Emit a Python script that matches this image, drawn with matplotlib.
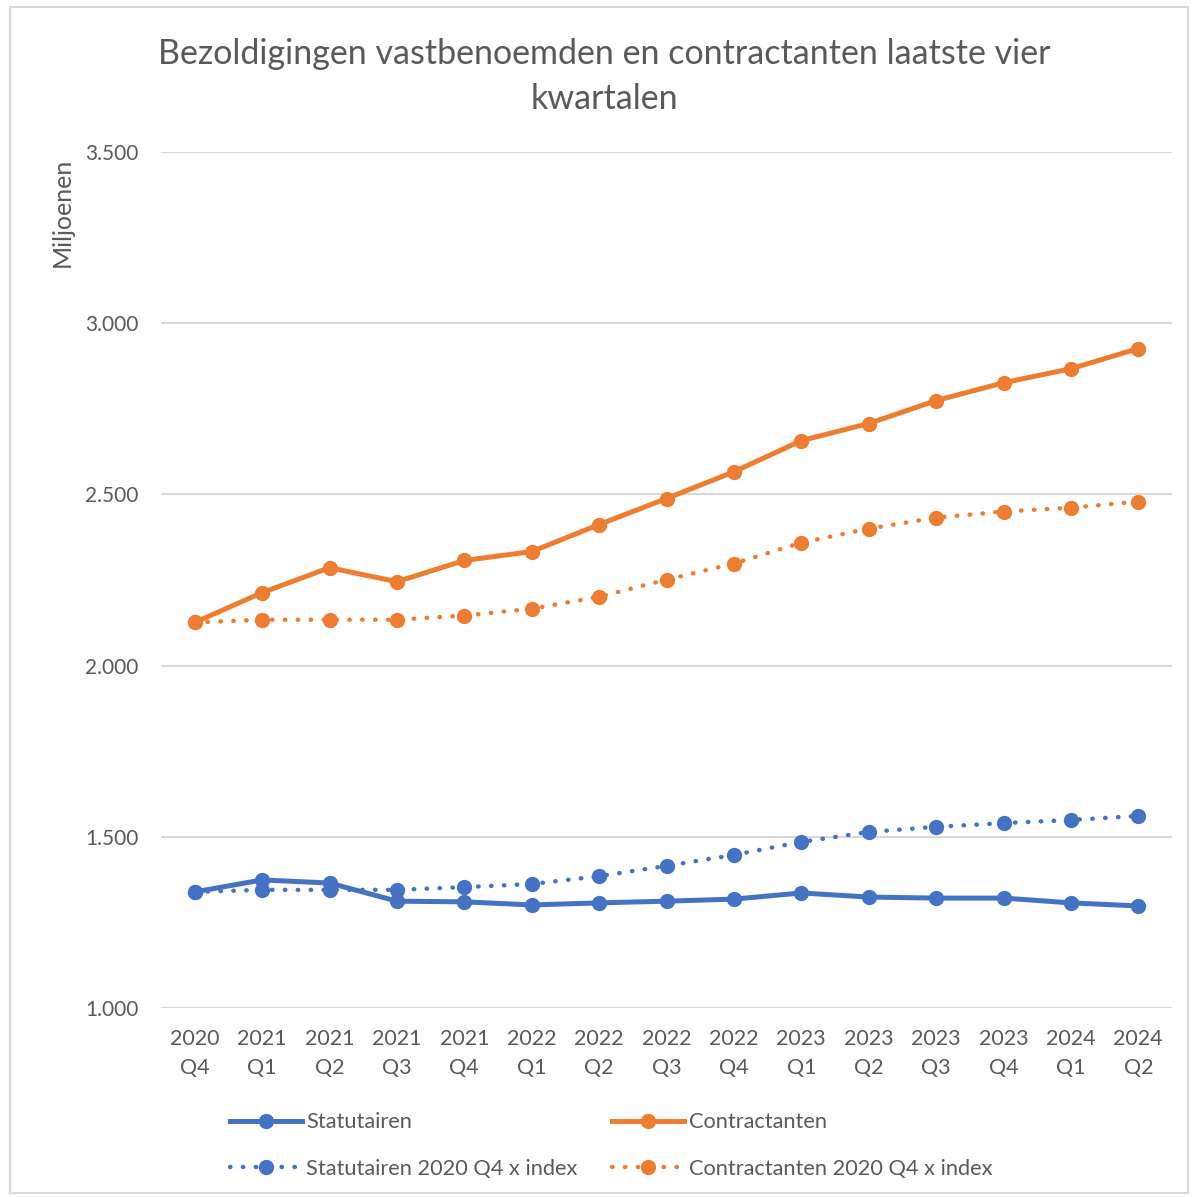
import matplotlib.pyplot as plt
from matplotlib.patches import Rectangle
from matplotlib.ticker import FuncFormatter

plt.rcParams['font.family'] = ['Lato', 'DejaVu Sans']

# kwartalen
kwartalen = ['2020\nQ4', '2021\nQ1', '2021\nQ2', '2021\nQ3', '2021\nQ4',
             '2022\nQ1', '2022\nQ2', '2022\nQ3', '2022\nQ4', '2023\nQ1',
             '2023\nQ2', '2023\nQ3', '2023\nQ4', '2024\nQ1', '2024\nQ2']

# bedragen in miljoenen
statutairen = [1339, 1374, 1365, 1312, 1310, 1301, 1307, 1312, 1318, 1336,
               1324, 1321, 1321, 1307, 1298]
contractanten = [2126, 2213, 2286, 2245, 2307, 2333, 2412, 2488, 2566, 2657,
                 2707, 2774, 2826, 2867, 2926]
statutairen_idx = [1339, 1345, 1345, 1345, 1353, 1362, 1385, 1415, 1447, 1485,
                   1514, 1529, 1540, 1549, 1561]
contractanten_idx = [2126, 2134, 2134, 2134, 2146, 2166, 2201, 2251, 2298, 2359,
                     2400, 2432, 2450, 2461, 2479]

blauw = '#4472C4'
oranje = '#ED7D31'
grijs = '#595959'

fig = plt.figure(figsize=(11.92, 11.97), dpi=100)
ax = fig.add_axes([161/1192, 1 - 1008/1197, (1172-161)/1192, (1008-152)/1197])

x = list(range(len(kwartalen)))
stip = (0, (0.1, 2.8))
l1, = ax.plot(x, statutairen, color=blauw, lw=3.6, marker='o', ms=10,
              solid_joinstyle='round', label='Statutairen')
l3, = ax.plot(x, statutairen_idx, color=blauw, lw=3.2, ls=stip, dash_capstyle='round',
              marker='o', ms=10, label='Statutairen 2020 Q4 x index')
l2, = ax.plot(x, contractanten, color=oranje, lw=3.6, marker='o', ms=10,
              solid_joinstyle='round', label='Contractanten')
l4, = ax.plot(x, contractanten_idx, color=oranje, lw=3.2, ls=stip, dash_capstyle='round',
              marker='o', ms=10, label='Contractanten 2020 Q4 x index')

ax.set_xlim(-0.5, len(kwartalen) - 0.5)
ax.set_ylim(1000, 3500)
ax.set_yticks(range(1000, 3501, 500))
ax.yaxis.set_major_formatter(FuncFormatter(lambda v, p: f'{int(v):,}'.replace(',', '.')))
ax.set_xticks(x)
ax.set_xticklabels(kwartalen, linespacing=1.6)
ax.tick_params(axis='y', length=0, pad=16, labelsize=15, labelcolor=grijs)
ax.tick_params(axis='x', length=0, pad=15, labelsize=15.5, labelcolor=grijs)
for s in ax.spines.values():
    s.set_visible(False)
ax.grid(axis='y', color='#D9D9D9', lw=1.5)
ax.set_axisbelow(True)

fig.text(0.507, 1 - 54/1197, 'Bezoldigingen vastbenoemden en contractanten laatste vier',
         ha='center', va='center', fontsize=24.5, color=grijs)
fig.text(0.507, 1 - 99/1197, 'kwartalen', ha='center', va='center', fontsize=24.5, color=grijs)
fig.text(62/1192, 1 - 158/1197, 'Miljoenen', rotation=90, ha='center', va='top',
         fontsize=18, color=grijs)

fig.legend(handles=[l1, l3, l2, l4], ncol=2, loc='center',
           bbox_to_anchor=(611/1192, 1 - 1145.5/1197), frameon=False,
           fontsize=15.7, labelcolor=grijs, handlelength=3.3, handletextpad=0.2,
           columnspacing=1.6, labelspacing=1.2, borderpad=0)

fig.patches.append(Rectangle((10/1192, 1 - 1193/1197), 1178/1192, 1186/1197,
                             transform=fig.transFigure, fill=False,
                             edgecolor='#D9D9D9', lw=1.5))

fig.savefig('out.png', dpi=100)
